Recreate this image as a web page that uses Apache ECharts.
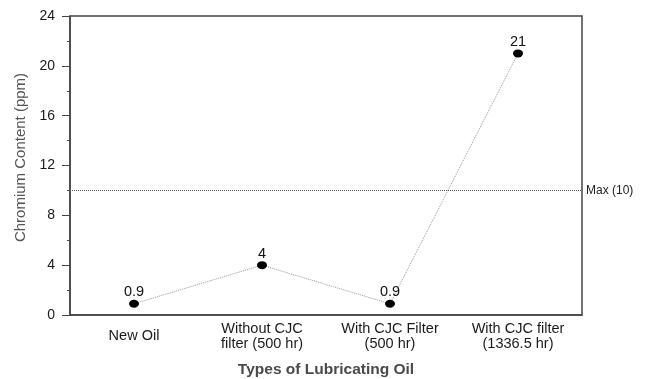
<!DOCTYPE html>
<html>
<head>
<meta charset="utf-8">
<script src="https://cdn.jsdelivr.net/npm/echarts@6/dist/echarts.min.js"></script>
<style>
  html, body { margin: 0; padding: 0; background: #fff; }
  #chart { width: 650px; height: 379px; }
</style>
</head>
<body>
<div id="chart"></div>
<script>
// Oil types and measured chromium levels
const categories = ['New Oil', 'Without CJC\nfilter (500 hr)', 'With CJC Filter\n(500 hr)', 'With CJC filter\n(1336.5 hr)'];
const chromium = [0.9, 4, 0.9, 21];
const maxLimit = 10;
const yTicks = { min: 0, max: 24, interval: 4 };

const chart = echarts.init(document.getElementById('chart'));
const font = 'Arial, "Liberation Sans", sans-serif';

// single-line category names sit centred against the two-line ones
const categoryItems = categories.map(function (c) {
  return c.indexOf('\n') < 0 ? { value: c, textStyle: { lineHeight: 30 } } : c;
});

chart.setOption({
  animation: false,
  backgroundColor: '#fff',
  grid: {
    left: 70, right: 68, top: 16, bottom: 64,
    outerBoundsMode: 'none', containLabel: false,
    show: true, borderColor: '#444', borderWidth: 1.5
  },
  xAxis: {
    type: 'category',
    data: categoryItems,
    boundaryGap: true,
    name: 'Types of Lubricating Oil',
    nameLocation: 'middle',
    nameGap: 47,
    nameTextStyle: { fontFamily: font, fontSize: 15.5, fontWeight: 'bold', color: '#4a4a4a' },
    axisLine: { lineStyle: { color: '#444', width: 1.5 } },
    axisTick: { show: false },
    axisLabel: { fontFamily: font, fontSize: 14.5, color: '#1a1a1a', margin: 6, lineHeight: 15, interval: 0 }
  },
  yAxis: {
    type: 'value',
    min: yTicks.min,
    max: yTicks.max,
    interval: yTicks.interval,
    name: 'Chromium Content (ppm)',
    nameLocation: 'middle',
    nameGap: 37,
    nameTextStyle: { fontFamily: font, fontSize: 15, color: '#555', padding: [0, 0, 0, 16] },
    axisLine: { show: true, lineStyle: { color: '#444', width: 1.5 } },
    axisTick: { show: true, length: 8, lineStyle: { color: '#444' } },
    minorTick: { show: true, splitNumber: 2, length: 3, lineStyle: { color: '#444' } },
    splitLine: { show: false },
    axisLabel: { fontFamily: font, fontSize: 14, color: '#1a1a1a', margin: 15 }
  },
  series: [{
    type: 'line',
    data: chromium,
    symbol: 'circle',
    symbolSize: [10, 8],
    itemStyle: { color: '#000' },
    lineStyle: { color: '#999', width: 1, type: 'dotted' },
    label: { show: true, position: 'top', distance: 0, fontFamily: font, fontSize: 14.5, color: '#111' },
    markLine: {
      silent: true,
      symbol: 'none',
      lineStyle: { color: '#555', type: 'dotted', width: 1 },
      label: { show: true, position: 'end', formatter: 'Max (10)', fontFamily: font, fontSize: 12, color: '#222', distance: 4 },
      data: [{ yAxis: maxLimit }]
    }
  }]
});
</script>
</body>
</html>
